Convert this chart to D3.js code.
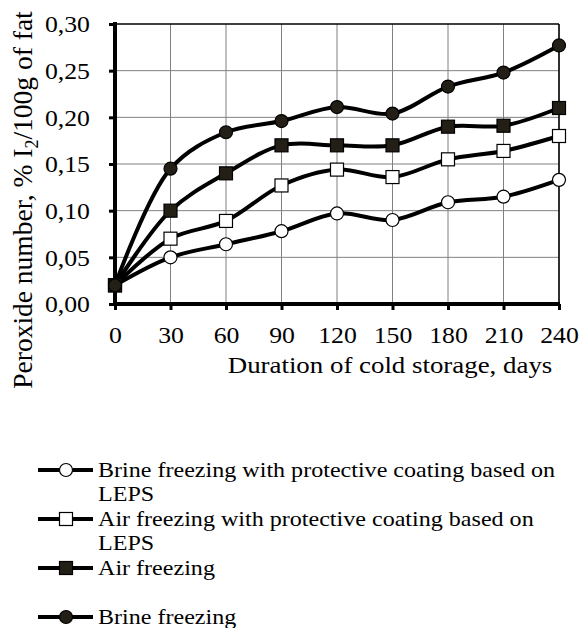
<!DOCTYPE html>
<html>
<head>
<meta charset="utf-8">
<script src="https://cdn.jsdelivr.net/npm/d3@7"></script>
<style>
  body { margin: 0; background: #fff; }
  svg { display: block; }
  text { font-family: "Liberation Serif", "Times New Roman", serif; fill: #000; }
</style>
</head>
<body>
<div id="chart"></div>
<script>
(function(){

  var days = [0, 30, 60, 90, 120, 150, 180, 210, 240];
  var yTicks = [0, 0.05, 0.10, 0.15, 0.20, 0.25, 0.30];

  var brineCoated = [0.020, 0.050, 0.064, 0.078, 0.097, 0.090, 0.109, 0.115, 0.133];
  var airCoated   = [0.020, 0.070, 0.089, 0.127, 0.144, 0.136, 0.155, 0.164, 0.180];
  var airFreezing = [0.020, 0.100, 0.140, 0.170, 0.170, 0.170, 0.190, 0.191, 0.210];
  var brineFreezing = [0.020, 0.145, 0.184, 0.196, 0.211, 0.204, 0.233, 0.248, 0.277];

  var series = [
    {lines: ["Brine freezing with protective coating based on", "LEPS"], values: brineCoated, shape: "circle", fill: "#fff"},
    {lines: ["Air freezing with protective coating based on", "LEPS"], values: airCoated, shape: "square", fill: "#fff"},
    {lines: ["Air freezing"], values: airFreezing, shape: "square", fill: "#231f16"},
    {lines: ["Brine freezing"], values: brineFreezing, shape: "circle", fill: "#231f16"}
  ];

  var margin = {top: 24, right: 21, bottom: 324, left: 115},
    width = 580 - margin.left - margin.right,
    height = 628 - margin.top - margin.bottom;

  // the text in the picture is a little wider than it is tall
  var stretch = 1.12;

  var svg = d3.select("#chart").append("svg")
    .attr("width", 580)
    .attr("height", 628);

  var g = svg.append("g")
    .attr("transform", "translate(" + margin.left + "," + margin.top + ")");

  var x = d3.scaleLinear().domain([0, 240]).range([0, width]);
  var y = d3.scaleLinear().domain([0, 0.30]).range([height, 0]);

  // grid
  g.append("g").selectAll("line")
    .data(days.slice(1))
    .enter().append("line")
    .attr("x1", function(d) { return x(d); })
    .attr("x2", function(d) { return x(d); })
    .attr("y1", 0).attr("y2", height)
    .attr("stroke", "#808080").attr("stroke-width", 1);
  g.append("g").selectAll("line")
    .data(yTicks.slice(1))
    .enter().append("line")
    .attr("x1", 0).attr("x2", width)
    .attr("y1", function(d) { return y(d); })
    .attr("y2", function(d) { return y(d); })
    .attr("stroke", function(d) { return d === 0.30 ? "#000" : "#808080"; })
    .attr("stroke-width", function(d) { return d === 0.30 ? 1.5 : 1; });
  g.append("line")
    .attr("x1", width).attr("x2", width).attr("y1", 0).attr("y2", height)
    .attr("stroke", "#000").attr("stroke-width", 1.5);

  // axes
  var yAxis = d3.axisLeft(y).tickValues(yTicks).tickSize(6)
    .tickFormat(function(d) { return d3.format(".2f")(d).replace(".", ","); });
  var xAxis = d3.axisBottom(x).tickValues(days).tickSize(6);

  var ya = g.append("g").call(yAxis);
  ya.select(".domain").remove();
  ya.selectAll(".tick line").attr("stroke-width", 3);
  ya.selectAll("text")
    .style("font-size", "23px")
    .attr("x", 0).attr("dy", "0.34em")
    .attr("transform", "translate(-25,0) scale(" + stretch + ",1)");

  var xa = g.append("g").attr("transform", "translate(0," + height + ")").call(xAxis);
  xa.select(".domain").remove();
  xa.selectAll(".tick line").attr("stroke-width", 3);
  xa.selectAll("text")
    .style("font-size", "23px")
    .attr("y", 0).attr("dy", 0)
    .attr("transform", "translate(0,39) scale(" + stretch + ",1)");

  g.append("line").attr("x1", 0).attr("x2", 0).attr("y1", -2).attr("y2", height + 2)
    .attr("stroke", "#000").attr("stroke-width", 4);
  g.append("line").attr("x1", -2).attr("x2", width + 1).attr("y1", height).attr("y2", height)
    .attr("stroke", "#000").attr("stroke-width", 4);

  // axis titles
  svg.append("text")
    .attr("transform", "translate(390,373) scale(" + stretch + ",1)")
    .attr("text-anchor", "middle")
    .style("font-size", "24px")
    .text("Duration of cold storage, days");

  var yl = svg.append("text")
    .attr("transform", "translate(32,200) rotate(-90)")
    .attr("text-anchor", "middle")
    .style("font-size", "27.5px");
  yl.append("tspan").text("Peroxide number, % I");
  yl.append("tspan").attr("dy", 6).style("font-size", "18px").text("2");
  yl.append("tspan").attr("dy", -6).text("/100g of fat");

  // lines
  var line = d3.line()
    .x(function(d, i) { return x(days[i]); })
    .y(function(d) { return y(d); })
    .curve(d3.curveCatmullRom.alpha(0.5));

  function marker(sel, s) {
    if (s.shape === "circle") {
      sel.append("circle").attr("r", 6.5);
    } else {
      sel.append("rect").attr("x", -6.5).attr("y", -6.5).attr("width", 13).attr("height", 13);
    }
    sel.selectAll("circle, rect").attr("fill", s.fill).attr("stroke", "#000").attr("stroke-width", 1.2);
  }

  series.forEach(function(s) {
    g.append("path")
      .attr("d", line(s.values))
      .attr("fill", "none")
      .attr("stroke", "#000")
      .attr("stroke-width", 4);
  });
  series.forEach(function(s) {
    s.values.forEach(function(v, i) {
      var m = g.append("g").attr("transform", "translate(" + x(days[i]) + "," + y(v) + ")");
      marker(m, s);
    });
  });

  // legend
  var lineH = 24.5;
  var legend = svg.append("g").attr("transform", "translate(0,470)");
  series.forEach(function(s, i) {
    var row = legend.append("g").attr("transform", "translate(0," + (i * 2 * lineH) + ")");
    row.append("line").attr("x1", 38).attr("x2", 93).attr("y1", 0).attr("y2", 0)
      .attr("stroke", "#000").attr("stroke-width", 4);
    var m = row.append("g").attr("transform", "translate(66,0)");
    marker(m, s);
    var t = row.append("text")
      .attr("transform", "translate(98,7) scale(" + stretch + ",1)")
      .style("font-size", "21.5px");
    s.lines.forEach(function(l, j) {
      t.append("tspan").attr("x", 0).attr("dy", j === 0 ? 0 : lineH).text(l);
    });
  });

})();
</script>
</body>
</html>
